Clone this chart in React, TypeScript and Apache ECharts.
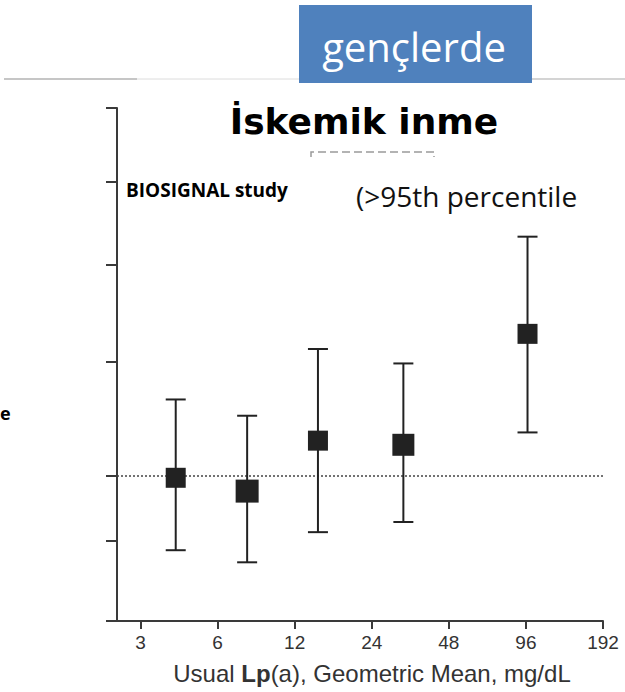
import React, { useEffect, useRef } from "react";
import * as echarts from "echarts";

// ---- data ----
const xTickValues = [3, 6, 12, 24, 48, 96, 192];
const yTickValues = [0.792, 0.9, 1.0, 1.2, 1.4, 1.6, 1.8];
const lpaMeans = [4.12, 7.83, 14.8, 31.9, 97.4];
const hazardRatios = [0.996, 0.975, 1.057, 1.05, 1.254];
const ciLower = [0.887, 0.87, 0.913, 0.928, 1.071];
const ciUpper = [1.129, 1.1, 1.224, 1.196, 1.465];
const referenceHR = 1;
const bannerText = "gençlerde";
const titleText = "İskemik inme";
const studyText = "BIOSIGNAL study";
const percentileText = "(>95th percentile";

export default function App() {
  const ref = useRef<HTMLDivElement>(null);

  useEffect(() => {
    if (!ref.current) return;
    const chart = echarts.init(ref.current, null, { renderer: "svg" });
    const squareSizes = [20, 23, 20, 22, 20];
    const ink = "#222";
    const axisColor = "#3a3a3a";

    const option: any = {
      animation: false,
      backgroundColor: "#fff",
      grid: { left: 117, right: 22, top: 108, bottom: 71, containLabel: false },
      xAxis: {
        type: "log",
        logBase: 2,
        min: 2.43,
        max: 192,
        axisLine: { show: true, lineStyle: { color: axisColor, width: 2 } },
        axisTick: {
          show: true,
          customValues: xTickValues,
          length: 8,
          lineStyle: { color: axisColor, width: 2 },
        },
        axisLabel: {
          show: true,
          customValues: xTickValues,
          fontSize: 19,
          color: "#333",
          margin: 12,
          fontFamily: "Liberation Sans",
          formatter: (v: number) => String(Math.round(v)),
        },
        splitLine: { show: false },
        minorTick: { show: false },
        name: "{n|Usual }{b|Lp}{n|(a), Geometric Mean, mg/dL}",
        nameLocation: "middle",
        nameGap: 40,
        nameTextStyle: {
          padding: [0, 0, 0, 24],
          rich: {
            n: { fontSize: 24, fontFamily: "Liberation Sans", color: "#333" },
            b: { fontSize: 24, fontFamily: "Liberation Sans", fontWeight: "bold", color: "#333" },
          },
        },
      },
      yAxis: {
        type: "log",
        logBase: 10,
        min: 0.792,
        max: 1.8,
        axisLine: { show: true, lineStyle: { color: axisColor, width: 2 } },
        axisTick: {
          show: true,
          customValues: yTickValues,
          length: 11,
          lineStyle: { color: axisColor, width: 2 },
        },
        axisLabel: { show: false },
        splitLine: { show: false },
        minorTick: { show: false },
      },
      series: [
        {
          type: "custom",
          data: lpaMeans.map((x, i) => [x, ciLower[i], ciUpper[i]]),
          encode: { x: 0, y: [1, 2] },
          renderItem: (params: any, api: any) => {
            const x = api.value(0);
            const lo = api.coord([x, api.value(1)]);
            const hi = api.coord([x, api.value(2)]);
            const half = 10;
            const style = { stroke: ink, lineWidth: 2 };
            return {
              type: "group",
              children: [
                { type: "line", shape: { x1: lo[0], y1: lo[1], x2: hi[0], y2: hi[1] }, style },
                { type: "line", shape: { x1: lo[0] - half, y1: lo[1], x2: lo[0] + half, y2: lo[1] }, style },
                { type: "line", shape: { x1: hi[0] - half, y1: hi[1], x2: hi[0] + half, y2: hi[1] }, style },
              ],
            };
          },
          z: 2,
        },
        {
          type: "scatter",
          data: lpaMeans.map((x, i) => [x, hazardRatios[i]]),
          symbol: "rect",
          symbolSize: (_v: any, p: any) => squareSizes[p.dataIndex],
          itemStyle: { color: ink, opacity: 1 },
          z: 3,
          markLine: {
            silent: true,
            symbol: "none",
            label: { show: false },
            lineStyle: { type: [2, 2], color: "#444", width: 1.5 },
            data: [{ yAxis: referenceHR }],
            z: 1,
          },
        },
      ],
      graphic: [
        { type: "line", shape: { x1: 4, y1: 79, x2: 137, y2: 79 }, style: { stroke: "#c6c6c6", lineWidth: 2 } },
        { type: "line", shape: { x1: 137, y1: 79, x2: 299, y2: 79 }, style: { stroke: "#dcdcdc", lineWidth: 1 } },
        { type: "line", shape: { x1: 532, y1: 79, x2: 625, y2: 79 }, style: { stroke: "#c6c6c6", lineWidth: 1.5 } },
        { type: "rect", shape: { x: 299, y: 5, width: 233, height: 78 }, style: { fill: "#4F81BD" } },
        {
          type: "text",
          x: 414,
          y: 46,
          style: {
            text: bannerText,
            fill: "#fff",
            font: "40px 'Open Sans'",
            align: "center",
            verticalAlign: "middle",
          },
        },
        {
          type: "text",
          x: 364,
          y: 121,
          style: {
            text: titleText,
            fill: "#000",
            font: "bold 36px 'DejaVu Sans'",
            align: "center",
            verticalAlign: "middle",
          },
        },
        {
          type: "polyline",
          shape: { points: [[311, 157], [311, 152], [434, 152], [434, 157]] },
          style: { stroke: "#9a9a9a", lineWidth: 1.5, lineDash: [8, 4], fill: "none" },
        },
        {
          type: "text",
          x: 126,
          y: 190,
          style: {
            text: studyText,
            fill: "#000",
            font: "bold 19px 'Open Sans'",
            align: "left",
            verticalAlign: "middle",
          },
        },
        {
          type: "text",
          x: 356,
          y: 196,
          style: {
            text: percentileText,
            fill: "#111",
            font: "28px 'Open Sans'",
            align: "left",
            verticalAlign: "middle",
          },
        },
        {
          type: "text",
          x: 0,
          y: 413,
          style: {
            text: "e",
            fill: "#000",
            font: "bold 18px 'Open Sans'",
            align: "left",
            verticalAlign: "middle",
          },
        },
      ],
    };

    chart.setOption(option);
    return () => chart.dispose();
  }, []);

  return (
    <div
      ref={ref}
      style={{ position: "absolute", left: 0, top: 0, width: 625, height: 692, background: "#fff" }}
    />
  );
}
